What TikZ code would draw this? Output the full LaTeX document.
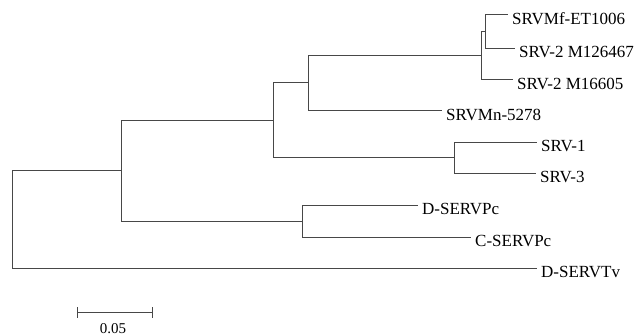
\documentclass[tikz,border=0pt]{standalone}
\usepackage{fontspec}
\setmainfont{Liberation Serif}
\begin{document}
\begin{tikzpicture}[x=1pt,y=-1pt,
  branch/.style={draw=black!72,line width=1.4pt},
  leaflabel/.style={anchor=west,inner sep=0pt,xshift=4pt,yshift=-4pt,font=\fontsize{17}{20}\selectfont},
  scalelabel/.style={inner sep=0pt,font=\fontsize{15}{18}\selectfont}]
\useasboundingbox (0,0) rectangle (643,336);
% internal nodes (x, attach y)
\coordinate (root) at (12.5,219.5);
\coordinate (nA) at (121.5,170.5);
\coordinate (nB) at (273.5,120.5);
\coordinate (nD) at (308.5,82.5);
\coordinate (nE) at (481.5,55.5);
\coordinate (nF) at (485.5,31.5);
\coordinate (nG) at (454.5,157.5);
\coordinate (nC) at (302.5,221.5);
% leaf tips
\coordinate (t1) at (508,14.5);
\coordinate (t2) at (515,48.5);
\coordinate (t3) at (513,79.5);
\coordinate (t4) at (442,110.5);
\coordinate (t5) at (537,142.5);
\coordinate (t6) at (536,173.5);
\coordinate (t7) at (418,205.5);
\coordinate (t8) at (471,237.5);
\coordinate (t9) at (537,268.5);
% labels
\node[leaflabel] (l1) at (t1) {SRVMf-ET1006};
\node[leaflabel] (l2) at (t2) {SRV-2 M126467};
\node[leaflabel] (l3) at (t3) {SRV-2 M16605};
\node[leaflabel] (l4) at (t4) {SRVMn-5278};
\node[leaflabel] (l5) at (t5) {SRV-1};
\node[leaflabel] (l6) at (t6) {SRV-3};
\node[leaflabel] (l7) at (t7) {D-SERVPc};
\node[leaflabel] (l8) at (t8) {C-SERVPc};
\node[leaflabel] (l9) at (t9) {D-SERVTv};
% branches
\draw[branch] (root) |- (nA);
\draw[branch] (root) |- (t9);
\draw[branch] (nA) |- (nB);
\draw[branch] (nA) |- (nC);
\draw[branch] (nB) |- (nD);
\draw[branch] (nB) |- (nG);
\draw[branch] (nD) |- (nE);
\draw[branch] (nD) |- (t4);
\draw[branch] (nE) |- (nF);
\draw[branch] (nE) |- (t3);
\draw[branch] (nF) |- (t1);
\draw[branch] (nF) |- (t2);
\draw[branch] (nG) |- (t5);
\draw[branch] (nG) |- (t6);
\draw[branch] (nC) |- (t7);
\draw[branch] (nC) |- (t8);
% scale bar
\coordinate (sb1) at (77.5,312.5);
\coordinate (sb2) at (152.5,312.5);
\draw[branch] (sb1) -- (sb2);
\draw[branch] ([yshift=-5.5pt]sb1) -- ([yshift=5.5pt]sb1);
\draw[branch] ([yshift=-5.5pt]sb2) -- ([yshift=5.5pt]sb2);
\node[scalelabel] (sbl) at (113,329) {0.05};
\end{tikzpicture}
\end{document}
